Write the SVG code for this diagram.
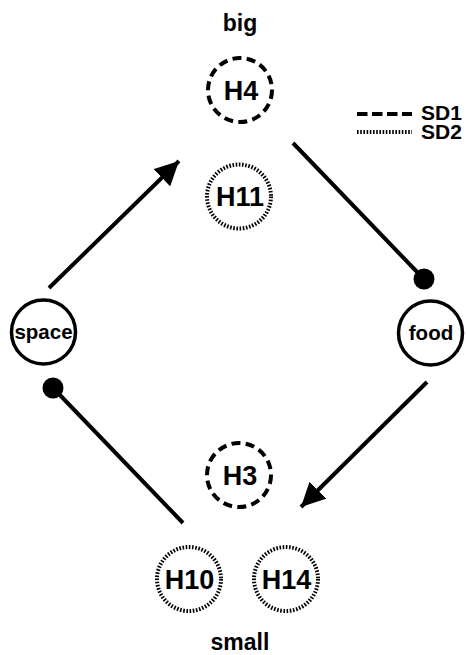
<svg xmlns="http://www.w3.org/2000/svg" width="467" height="655" viewBox="0 0 467 655">
<style>
text{font-family:"Liberation Sans",Arial,sans-serif;font-weight:bold;fill:#000;text-anchor:middle}
.lbl{font-size:23px}
.leg{font-size:21px;text-anchor:start}
.h{font-size:27px}
.n{font-size:20.5px}
.solid{fill:#fff;stroke:#000;stroke-width:3.5}
.dash{fill:none;stroke:#000;stroke-width:4;stroke-dasharray:9 5.3}
.dot{fill:none;stroke:#000;stroke-width:4;stroke-dasharray:1.6 1.6}
.edge{stroke:#000;stroke-width:4;fill:none}
</style>
<defs>
<marker id="arrow" markerUnits="userSpaceOnUse" markerWidth="24" markerHeight="24" viewBox="0 0 22 22" refX="22" refY="11" orient="auto">
<path d="M0,0 L22,11 L0,22 Z" fill="#000"/>
</marker>
</defs>
<text class="lbl" x="240" y="31">big</text>
<text class="lbl" x="240" y="650">small</text>
<g id="legend">
<line x1="357" y1="114" x2="412" y2="114" stroke="#000" stroke-width="4" stroke-dasharray="10.5 4.5"/>
<line x1="357" y1="132" x2="412" y2="132" stroke="#000" stroke-width="4" stroke-dasharray="1.6 1.6"/>
<text class="leg" x="421" y="119.5">SD1</text>
<text class="leg" x="421" y="139">SD2</text>
</g>
<g id="connectors">
<line class="edge" x1="49" y1="288" x2="179" y2="161" marker-end="url(#arrow)"/>
<line class="edge" x1="293" y1="143" x2="420" y2="275"/>
<circle cx="424" cy="279" r="10.5" fill="#000"/>
<line class="edge" x1="427" y1="382" x2="301" y2="507" marker-end="url(#arrow)"/>
<line class="edge" x1="183" y1="523" x2="57" y2="392"/>
<circle cx="53" cy="388" r="10.5" fill="#000"/>
</g>
<g id="H4"><circle class="dash" cx="240" cy="90" r="32"/><text class="h" x="241" y="100">H4</text></g>
<g id="H11"><circle class="dot" cx="239" cy="196.5" r="32"/><text class="h" x="240" y="206">H11</text></g>
<g id="space"><circle class="solid" cx="43.5" cy="332" r="32"/><text class="n" x="43.5" y="339">space</text></g>
<g id="food"><circle class="solid" cx="430.5" cy="333" r="32"/><text class="n" x="431" y="340">food</text></g>
<g id="H3"><circle class="dash" cx="239" cy="475" r="32"/><text class="h" x="240" y="485">H3</text></g>
<g id="H10"><circle class="dot" cx="189" cy="579" r="32"/><text class="h" x="189.5" y="589">H10</text></g>
<g id="H14"><circle class="dot" cx="286" cy="579" r="32"/><text class="h" x="286.5" y="589">H14</text></g>
</svg>
